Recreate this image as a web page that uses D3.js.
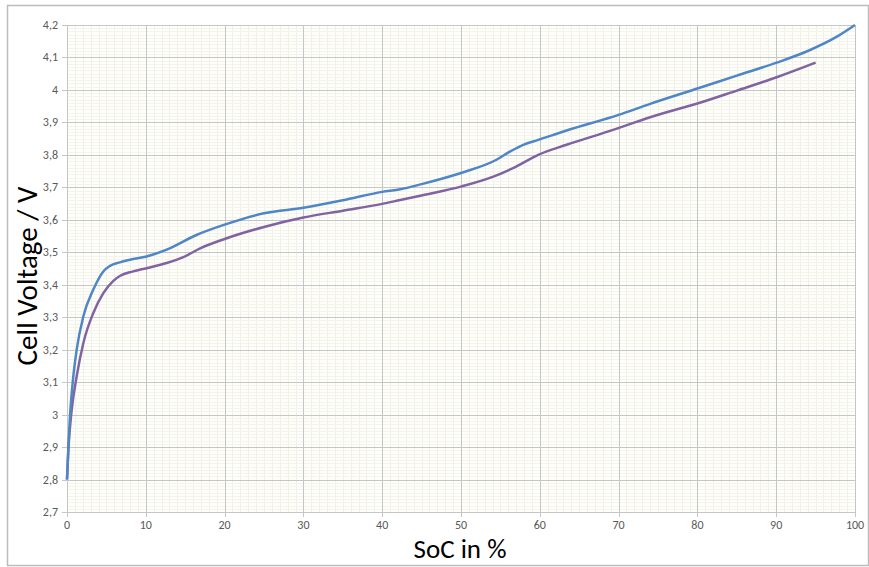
<!DOCTYPE html>
<html><head><meta charset="utf-8">
<script src="https://cdn.jsdelivr.net/npm/d3@7"></script>
<style>body{margin:0;background:#fff;}svg{display:block;}</style>
</head><body><svg id="c" width="869" height="567"></svg>
<script>
const xTicks = [0,10,20,30,40,50,60,70,80,90,100];
const yTicks = [2.7,2.8,2.9,3.0,3.1,3.2,3.3,3.4,3.5,3.6,3.7,3.8,3.9,4.0,4.1,4.2];
const yTickLabels = ["2,7","2,8","2,9","3","3,1","3,2","3,3","3,4","3,5","3,6","3,7","3,8","3,9","4","4,1","4,2"];
const blueSoC = [0,0.38,0.72,1.23,2.07,3.34,4.61,5.46,6.7,8.0,10.1,12.65,16.5,20,25,30,35,40,42.3,45,50.1,54.5,56.2,57.9,59.8,63.4,70,74,80.1,85,90.06,94.3,97.7,100];
const blueV   = [2.80,2.995,3.098,3.20,3.302,3.385,3.441,3.458,3.469,3.477,3.487,3.508,3.554,3.585,3.62,3.637,3.66,3.686,3.694,3.71,3.745,3.785,3.81,3.831,3.846,3.875,3.923,3.957,4.005,4.044,4.084,4.123,4.164,4.20];
const purpleSoC = [0,0.17,0.6,1.23,2.07,3.34,4.61,5.88,6.7,8.4,10.1,12.65,14.76,16.9,20,25,30,35,40,42.3,45,50.1,54.1,56.6,59.8,63.4,69.3,74,80.1,85,90.06,95];
const purpleV   = [2.80,2.892,3.015,3.118,3.22,3.313,3.374,3.412,3.427,3.441,3.451,3.467,3.485,3.512,3.541,3.578,3.607,3.628,3.649,3.661,3.675,3.703,3.733,3.759,3.80,3.831,3.877,3.916,3.959,3.998,4.039,4.084];

const svg = d3.select("#c");
const L=67,R=855,T=25,B=512;
const x = d3.scaleLinear().domain([0,100]).range([L,R]);
const y = d3.scaleLinear().domain([2.7,4.2]).range([B,T]);

svg.append("rect").attr("x",7.5).attr("y",5.5).attr("width",861).attr("height",560)
  .attr("fill","#fff").attr("stroke","#bdbdbd").attr("stroke-width",1.5);
svg.append("rect").attr("x",L).attr("y",T).attr("width",R-L).attr("height",B-T).attr("fill","#fefefa");

const g = svg.append("g");
const xMinor = d3.range(0,101,1).filter(v=>v%10!==0);
const yMinor = d3.range(270,421,1).filter(v=>v%10!==0).map(v=>v/100);
g.selectAll(".xm").data(xMinor).join("line")
  .attr("x1",d=>Math.round(x(d))+0.5).attr("x2",d=>Math.round(x(d))+0.5).attr("y1",T).attr("y2",B)
  .attr("stroke","#f1f0e6").attr("stroke-width",1);
g.selectAll(".ym").data(yMinor).join("line")
  .attr("y1",d=>Math.round(y(d))+0.5).attr("y2",d=>Math.round(y(d))+0.5).attr("x1",L).attr("x2",R)
  .attr("stroke","#f4f3ec").attr("stroke-width",1);
g.selectAll(".xM").data(xTicks).join("line")
  .attr("x1",d=>Math.round(x(d))+0.5).attr("x2",d=>Math.round(x(d))+0.5).attr("y1",T).attr("y2",B+5)
  .attr("stroke","#c6c6c6").attr("stroke-width",1);
g.selectAll(".yM").data(yTicks).join("line")
  .attr("y1",d=>Math.round(y(d))+0.5).attr("y2",d=>Math.round(y(d))+0.5).attr("x1",L-5).attr("x2",R)
  .attr("stroke","#c6c6c6").attr("stroke-width",1);

const font = "Carlito, Lato, 'Open Sans', sans-serif";
svg.selectAll(".xl").data(xTicks).join("text")
  .attr("x",d=>x(d)).attr("y",B+17).attr("text-anchor","middle")
  .attr("font-family",font).attr("font-size",12).attr("fill","#595959").text(d=>d);
svg.selectAll(".yl").data(yTicks).join("text")
  .attr("x",L-9).attr("y",d=>y(d)+4).attr("text-anchor","end")
  .attr("font-family",font).attr("font-size",12).attr("fill","#595959").text((d,i)=>yTickLabels[i]);

const line = d3.line().x(d=>x(d[0])).y(d=>y(d[1])).curve(d3.curveMonotoneX);
svg.append("path").datum(purpleSoC.map((s,i)=>[s,purpleV[i]])).attr("d",line)
  .attr("fill","none").attr("stroke","#8064a2").attr("stroke-width",2.5).attr("stroke-linejoin","round");
svg.append("path").datum(blueSoC.map((s,i)=>[s,blueV[i]])).attr("d",line)
  .attr("fill","none").attr("stroke","#4f86c6").attr("stroke-width",2.5).attr("stroke-linejoin","round");

svg.append("text").attr("x",460).attr("y",558).attr("text-anchor","middle")
  .attr("font-family",font).attr("font-size",27).attr("fill","#000").text("SoC in %");
svg.append("text").attr("transform","translate(37,276) rotate(-90)").attr("text-anchor","middle")
  .attr("font-family",font).attr("font-size",29).attr("fill","#000").text("Cell Voltage / V");
</script></body></html>
